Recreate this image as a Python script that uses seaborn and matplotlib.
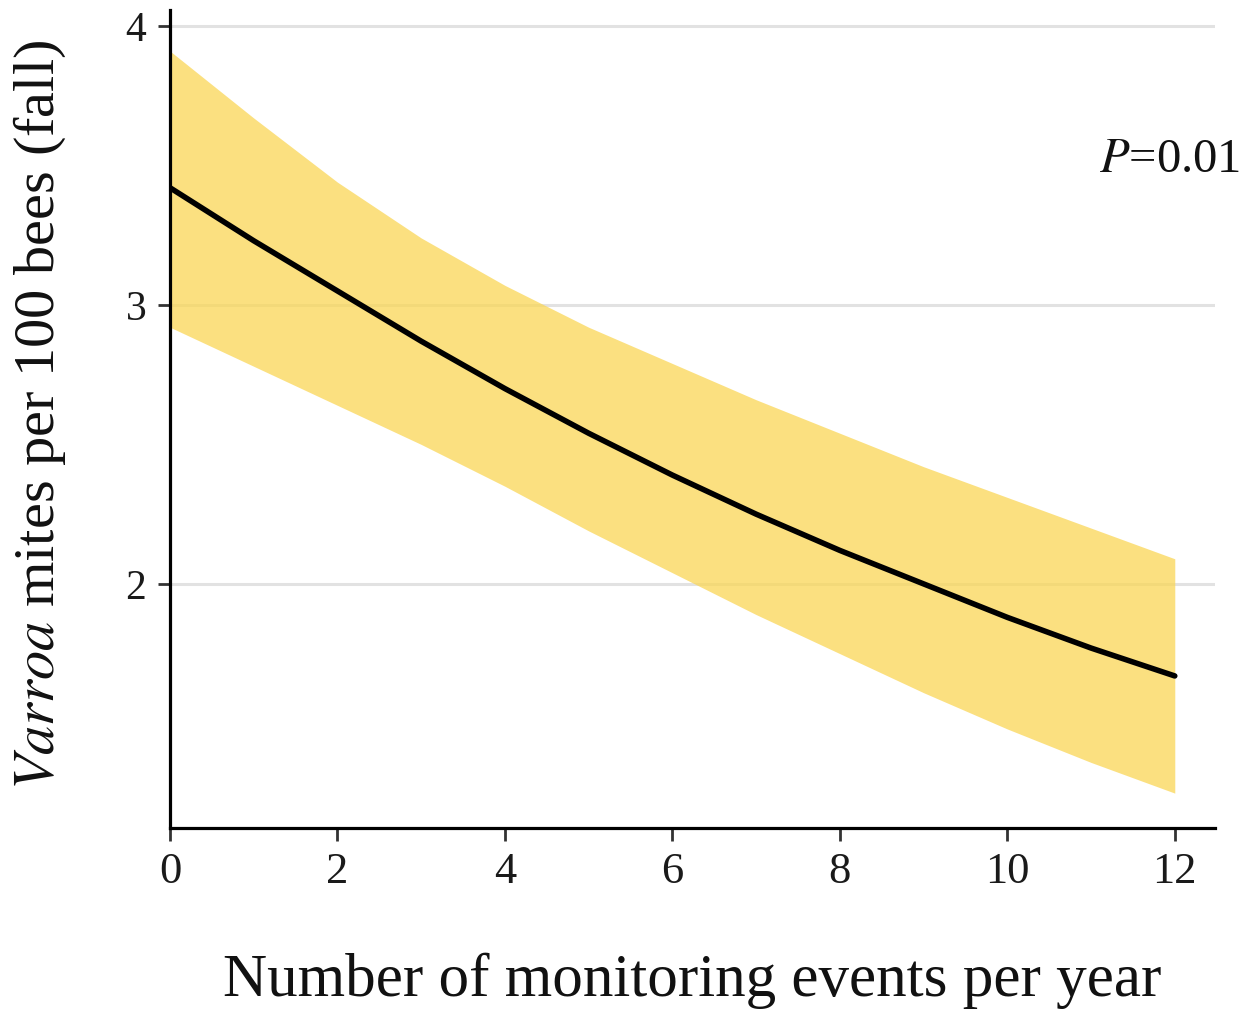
import matplotlib
matplotlib.use("Agg")
import matplotlib.pyplot as plt
import seaborn as sns
import pandas as pd

# values
events = [0, 1, 2, 3, 4, 5, 6, 7, 8, 9, 10, 11, 12]
mites_fit = [3.42, 3.23, 3.05, 2.87, 2.70, 2.54, 2.39, 2.25, 2.12, 2.00, 1.88, 1.77, 1.67]
mites_upper = [3.91, 3.67, 3.44, 3.24, 3.07, 2.92, 2.79, 2.66, 2.54, 2.42, 2.31, 2.20, 2.09]
mites_lower = [2.92, 2.78, 2.64, 2.50, 2.35, 2.19, 2.04, 1.89, 1.75, 1.61, 1.48, 1.36, 1.25]
y_ticks = [2, 3, 4]
x_ticks = [0, 2, 4, 6, 8, 10, 12]

df = pd.DataFrame({"events": events, "fit": mites_fit,
                   "lower": mites_lower, "upper": mites_upper})

sns.set_theme(style="white")
plt.rcParams["font.family"] = ["Liberation Serif", "DejaVu Serif"]
plt.rcParams["mathtext.fontset"] = "stix"

fig = plt.figure(figsize=(12.46, 10.10), dpi=100)
ax = fig.add_axes([0.1364, 0.1802, 0.8387, 0.8099])

for yv in y_ticks:
    ax.axhline(yv, color="#e2e2e2", lw=2.2, zorder=1)

ax.fill_between(df["events"], df["lower"], df["upper"], color="#FAD656",
                alpha=0.75, lw=0, zorder=2)
sns.lineplot(data=df, x="events", y="fit", color="black", lw=4, ax=ax, zorder=3)

ax.set_xlim(0, 12.48)
ax.set_ylim(1.125, 4.057)
ax.set_xticks(x_ticks)
ax.set_yticks(y_ticks)

for s in ["top", "right"]:
    ax.spines[s].set_visible(False)
for s in ["left", "bottom"]:
    ax.spines[s].set_color("black")
    ax.spines[s].set_linewidth(2.3)

ax.tick_params(axis="both", which="both", direction="out", length=9, width=2,
               color="#333333", labelsize=32, labelcolor="#1a1a1a", pad=8)
ax.tick_params(axis="x", bottom=True)
ax.tick_params(axis="y", left=True, labelsize=30)

ax.set_xlabel("Number of monitoring events per year", fontsize=44, labelpad=44,
              color="#111111")
ax.set_ylabel(r"$\it{Varroa}$ mites per 100 bees (fall)", fontsize=42,
              color="#111111")
ax.yaxis.set_label_coords(-0.098, 0.505)

ax.text(11.1, 3.52, r"$P$=0.01", fontsize=35, ha="left", va="center",
        color="#111111", clip_on=False)

fig.savefig("out.png", dpi=100)
